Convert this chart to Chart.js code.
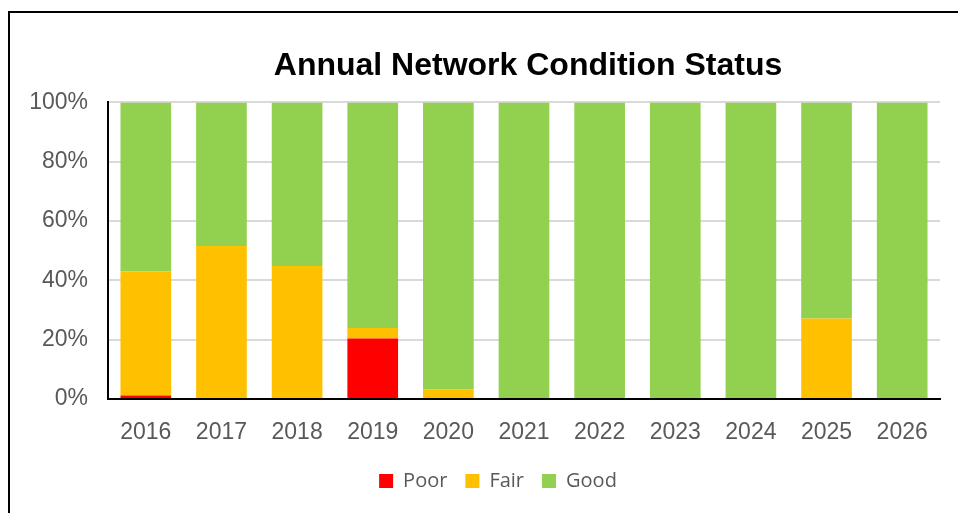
<!DOCTYPE html>
<html>
<head>
<meta charset="utf-8">
<script src="https://cdn.jsdelivr.net/npm/chart.js@4.4.0/dist/chart.umd.min.js"></script>
<style>
  html, body { margin: 0; padding: 0; background: #fff; overflow: hidden; }
  #frame { position: absolute; left: 8px; top: 11px; width: 980px; height: 540px; border: 2px solid #000; }
  #wrap { position: absolute; left: 0; top: 0; width: 958px; height: 513px; }
</style>
</head>
<body>
<div id="frame"></div>
<div id="wrap"><canvas id="chart" width="958" height="513"></canvas></div>
<script>
const years = ['2016', '2017', '2018', '2019', '2020', '2021', '2022', '2023', '2024', '2025', '2026'];
const poor = [1.2, 0, 0, 20.4, 0, 0, 0, 0, 0, 0, 0];
const fair = [41.8, 51.6, 44.8, 3.5, 3.2, 0, 0, 0, 0, 27.1, 0];
const good = [57.0, 48.4, 55.2, 76.1, 96.8, 100, 100, 100, 100, 72.9, 100];
const yTicks = [0, 20, 40, 60, 80, 100];

const axisFont = { family: 'Liberation Sans, Arial, sans-serif', size: 23 };

// nudge the legend and title a bit to the right, like the original
const boxShift = {
    id: 'boxShift',
    afterLayout(chart) {
        chart.legend.left += 28;
        chart.legend.right += 28;
        chart.titleBlock.left += 4;
        chart.titleBlock.right += 4;
    },
};

new Chart(document.getElementById('chart'), {
    type: 'bar',
    data: {
        labels: years,
        datasets: [
            { label: 'Poor', data: poor, backgroundColor: '#FF0000' },
            { label: 'Fair', data: fair, backgroundColor: '#FFC000' },
            { label: 'Good', data: good, backgroundColor: '#92D050' },
        ],
    },
    plugins: [boxShift],
    options: {
        responsive: false,
        animation: false,
        layout: { padding: { left: 0, right: 18, top: 0, bottom: 12 } },
        datasets: { bar: { categoryPercentage: 1, barPercentage: 0.67 } },
        scales: {
            x: {
                stacked: true,
                grid: { display: false },
                border: { color: '#000', width: 2 },
                ticks: { color: '#595959', font: axisFont, padding: 12 },
                afterFit: (scale) => { scale.height = 54; },
            },
            y: {
                stacked: true,
                min: 0,
                max: 100,
                afterBuildTicks: (scale) => { scale.ticks = yTicks.map(v => ({ value: v })); },
                grid: { color: '#d9d9d9', lineWidth: 2, drawTicks: false },
                border: { color: '#000', width: 2 },
                ticks: { color: '#595959', font: axisFont, padding: 20, callback: (v) => v + '%' },
                afterFit: (scale) => { scale.width = 108; },
            },
        },
        plugins: {
            title: {
                display: true,
                fullSize: false,
                text: 'Annual Network Condition Status',
                color: '#000',
                font: { family: 'Liberation Sans, Arial, sans-serif', size: 32, weight: 'bold' },
                padding: { top: 47, bottom: 17 },
            },
            legend: {
                position: 'bottom',
                labels: {
                    color: '#595959',
                    font: { family: 'Open Sans, sans-serif', size: 20 },
                    boxWidth: 14,
                    boxHeight: 14,
                    padding: 18,
                },
            },
            tooltip: { enabled: false },
        },
    },
});
</script>
</body>
</html>
